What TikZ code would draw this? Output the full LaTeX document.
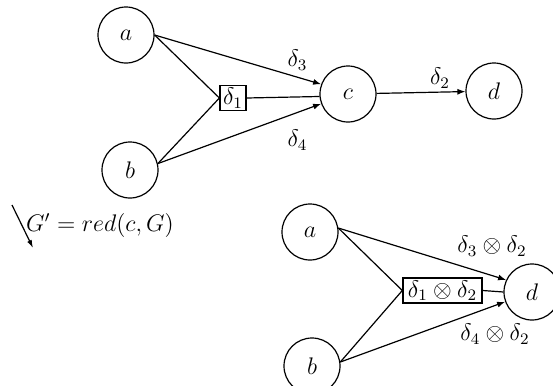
\documentclass[tikz,border=0pt]{standalone}
\usetikzlibrary{arrows.meta}
\begin{document}
\begin{tikzpicture}[x=0.5pt,y=-0.5pt,
  every node/.style={font=\fontsize{12}{14}\selectfont},
  vert/.style={draw,circle,line width=0.6pt,minimum size=28pt,inner sep=0pt},
  opbox/.style={draw,rectangle,line width=0.6pt,inner xsep=1.5pt,inner ysep=1pt,minimum height=11.5pt},
  edge/.style={line width=0.6pt},
  arr/.style={line width=0.6pt,-{Latex[length=4pt,width=3pt]}}]
\useasboundingbox (0,0) rectangle (553,386);
% top graph
\node[vert] (a) at (126,35) {$a$};
\node[vert] (b) at (130,170) {$b$};
\node[vert] (c) at (348,94) {$c$};
\node[vert] (d) at (494,91) {$d$};
\node[opbox,minimum width=13pt] (d1) at (233,98) {$\delta_1$};
\draw[edge] (a.east) -- (d1.west);
\draw[edge] (b.13) -- (d1.west);
\draw[arr] (a.east) -- (c.160);
\draw[arr] (b.13) -- (c.200);
\draw[edge] (d1.east) -- (c.185);
\draw[arr] (c) -- (d);
\node (l3) at (297.5,60) {$\delta_3$};
\node (l4) at (297.5,140) {$\delta_4$};
\node (l2) at (440,78) {$\delta_2$};
% reduction label
\coordinate (p1) at (12,205);
\coordinate (p2) at (33,248);
\draw[line width=0.6pt,-{Latex[length=4pt,width=2.5pt]}] (p1) -- (p2);
\node (red) at (100,225) {$G' = red(c,G)$};
% bottom graph
\node[vert] (a2) at (310,232) {$a$};
\node[vert] (b2) at (312,366) {$b$};
\node[vert] (dd) at (532,292) {$d$};
\node[opbox,inner xsep=2.5pt,minimum height=12.5pt] (d12) at (442.5,290.5) {$\delta_1\otimes\delta_2$};
\draw[edge] (a2.8) -- (d12.west);
\draw[edge] (b2.8) -- (d12.west);
\draw[arr] (a2.8) -- (dd.155);
\draw[arr] (b2.8) -- (dd.200);
\draw[edge] (d12.east) -- (dd.west);
\node (l32) at (492,246) {$\delta_3\otimes\delta_2$};
\node (l42) at (495,334) {$\delta_4\otimes\delta_2$};
\end{tikzpicture}
\end{document}
